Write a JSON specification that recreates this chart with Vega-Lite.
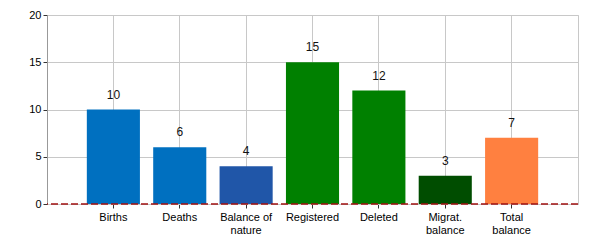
{
  "$schema": "https://vega.github.io/schema/vega-lite/v6.json",
  "autosize": "none",
  "width": 531,
  "height": 189,
  "padding": {"left": 47, "top": 15, "right": 22, "bottom": 46},
  "background": "white",
  "config": {
    "view": {"stroke": "#c8c8c8", "strokeWidth": 1},
    "font": "Liberation Sans"
  },
  "data": {
    "values": [
      {"category": "Births", "value": 10, "color": "#0070c0"},
      {"category": "Deaths", "value": 6, "color": "#0070c0"},
      {"category": "Balance of nature", "value": 4, "color": "#2056a8"},
      {"category": "Registered", "value": 15, "color": "#008000"},
      {"category": "Deleted", "value": 12, "color": "#008000"},
      {"category": "Migrat. balance", "value": 3, "color": "#004d00"},
      {"category": "Total balance", "value": 7, "color": "#ff8040"}
    ]
  },
  "encoding": {
    "x": {
      "field": "category",
      "type": "nominal",
      "sort": null,
      "scale": {"paddingInner": 0.2, "paddingOuter": 0.6},
      "axis": {
        "title": null,
        "labelAngle": 0,
        "labelFontSize": 11,
        "labelColor": "#000000",
        "labelPadding": 3,
        "labelLineHeight": 13,
        "labelExpr": "indexof(datum.value, ' ') > 0 ? [substring(datum.value, 0, lastindexof(datum.value, ' ')), substring(datum.value, lastindexof(datum.value, ' ') + 1)] : datum.value",
        "grid": true,
        "gridColor": "#c8c8c8",
        "tickColor": "#333333",
        "tickSize": 4,
        "domainColor": "#c8c8c8"
      }
    },
    "y": {
      "field": "value",
      "type": "quantitative",
      "scale": {"domain": [0, 20], "nice": false},
      "axis": {
        "title": null,
        "values": [0, 5, 10, 15, 20],
        "labelFontSize": 11,
        "labelColor": "#000000",
        "labelPadding": 2,
        "grid": true,
        "gridColor": "#c8c8c8",
        "tickColor": "#333333",
        "tickSize": 4,
        "domainColor": "#999999"
      }
    }
  },
  "layer": [
    {
      "mark": {"type": "bar"},
      "encoding": {
        "color": {"field": "color", "type": "nominal", "scale": null, "legend": null}
      }
    },
    {
      "mark": {"type": "text", "baseline": "bottom", "dy": -8, "fontSize": 12, "color": "#111111"},
      "encoding": {"text": {"field": "value", "type": "quantitative"}}
    },
    {
      "data": {"values": [{"zero": 0}]},
      "mark": {"type": "rule", "color": "#a01010", "strokeDash": [7, 3], "strokeWidth": 1.5},
      "encoding": {"y": {"field": "zero", "type": "quantitative"}, "x": null}
    }
  ]
}
